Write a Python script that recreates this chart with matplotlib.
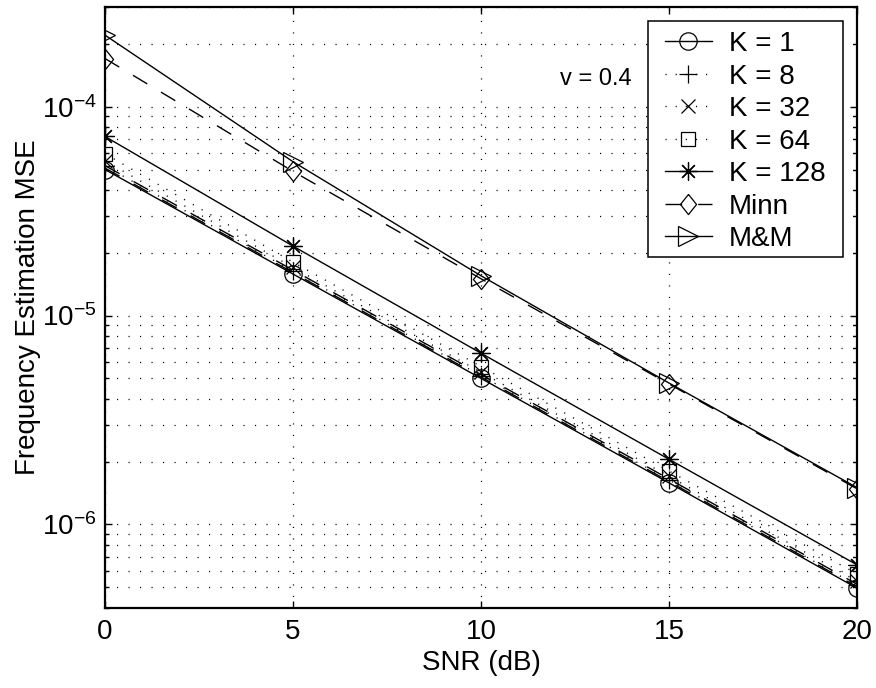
import matplotlib
matplotlib.use('Agg')
import matplotlib.pyplot as plt
from matplotlib.patches import Rectangle
from matplotlib.ticker import LogLocator, NullFormatter, FixedLocator, LogFormatterSciNotation

# ---------------- data ----------------
snr = [0, 5, 10, 15, 20]
k1 = [5.0e-5, 1.58e-5, 5.0e-6, 1.58e-6, 4.95e-7]
k8 = [5.2e-5, 1.63e-5, 5.15e-6, 1.63e-6, 5.1e-7]
k32 = [5.5e-5, 1.70e-5, 5.35e-6, 1.70e-6, 5.35e-7]
k64 = [5.95e-5, 1.80e-5, 5.7e-6, 1.80e-6, 5.8e-7]
k128 = [7.2e-5, 2.15e-5, 6.6e-6, 2.05e-6, 6.4e-7]
minn = [1.7e-4, 4.9e-5, 1.5e-5, 4.7e-6, 1.48e-6]
mm = [2.2e-4, 5.45e-5, 1.55e-5, 4.75e-6, 1.5e-6]
ref_a = [5.08e-5, 1.605e-5, 5.08e-6, 1.605e-6, 5.03e-7]
ref_b = [5.22e-5, 1.65e-5, 5.22e-6, 1.65e-6, 5.17e-7]

labels = ['K = 1', 'K = 8', 'K = 32', 'K = 64', 'K = 128', 'Minn', 'M&M']
xticks = [0, 5, 10, 15, 20]
annot = 'v = 0.4'

plt.rcParams['font.family'] = ['Liberation Sans', 'DejaVu Sans']
plt.rcParams['mathtext.default'] = 'regular'
FS = 20

W, H = 876, 688
fig = plt.figure(figsize=(W/100, H/100), dpi=100)
ax = fig.add_axes([105/W, 1-607.5/H, 752/W, 600.5/H])

dot = (0, (0.8, 6.5))
dash = (0, (12.0, 11.5))
lw = 1.0
ms_kw = dict(markerfacecolor='none', markeredgecolor='black', markeredgewidth=0.9)

h = []
h += ax.plot(snr, k1, color='black', lw=lw, ls='-', marker='o', ms=12.5, label=labels[0], **ms_kw)
h += ax.plot(snr, k8, color='black', lw=lw, ls=dot, marker='+', ms=12.5, label=labels[1], **ms_kw)
h += ax.plot(snr, k32, color='black', lw=lw, ls=dot, marker='x', ms=9.5, label=labels[2], **ms_kw)
h += ax.plot(snr, k64, color='black', lw=lw, ls=dot, marker='s', ms=10, label=labels[3], **ms_kw)
h += ax.plot(snr, k128, color='black', lw=lw, ls='-', marker=(8, 2, 0), ms=13, label=labels[4], **ms_kw)
diamond = [(0, 1), (0.8, 0), (0, -1), (-0.8, 0), (0, 1)]
h += ax.plot(snr, minn, color='black', lw=lw, ls=dash, marker=diamond, ms=14.5, label=labels[5], **ms_kw)
h += ax.plot(snr, mm, color='black', lw=lw, ls='-', marker='>', ms=14, label=labels[6], **ms_kw)
ax.plot(snr, ref_a, color='black', lw=lw, ls=dash)
ax.plot(snr, ref_b, color='black', lw=lw, ls=dash)

ax.set_yscale('log')
ax.set_xlim(0, 20)
ax.set_ylim(4e-7, 3e-4)
ax.xaxis.set_major_locator(FixedLocator(xticks))
ax.yaxis.set_major_locator(LogLocator(base=10, numticks=10))
ax.yaxis.set_minor_locator(LogLocator(base=10, subs=range(2, 10), numticks=20))
ax.yaxis.set_major_formatter(LogFormatterSciNotation())
ax.yaxis.set_minor_formatter(NullFormatter())

grid_style = dict(color='black', lw=0.9, ls=(0, (0.9, 8.3)))
ax.grid(True, which='major', axis='both', **grid_style)
ax.grid(True, which='minor', axis='y', **grid_style)

for s in ax.spines.values():
    s.set_linewidth(1.6)
ax.tick_params(which='both', direction='in', top=True, right=True, labelsize=FS, width=1.0)
ax.tick_params(which='major', length=5)
ax.tick_params(which='minor', length=3)
ax.tick_params(axis='x', pad=8)
ax.tick_params(axis='y', pad=6)

ax.set_xlabel('SNR (dB)', fontsize=FS)
ax.set_ylabel('Frequency Estimation MSE', fontsize=FS)
ax.xaxis.set_label_coords(0.5, -0.093)
ax.yaxis.set_label_coords(-0.103, 0.5)
ax.xaxis.label.set_va('center')
ax.yaxis.label.set_va('center')

ax.text(12.1, 1.35e-4, annot, fontsize=17, ha='left', va='center')

# legend frame (figure pixels 648..843 x 21..257)
frame = Rectangle((648/W, 1-257/H), (843-648)/W, (257-21)/H, transform=fig.transFigure,
                  facecolor='white', edgecolor='black', lw=1.1, zorder=4)
fig.add_artist(frame)
leg = fig.legend(handles=h, labels=labels, loc='upper left', bbox_to_anchor=(665/W, 1-31/H),
                 borderaxespad=0, borderpad=0, fontsize=FS, frameon=False,
                 handlelength=1.69, handletextpad=0.61, labelspacing=0.235, numpoints=1)
leg.set_zorder(5)

fig.savefig('out.png', dpi=100)
